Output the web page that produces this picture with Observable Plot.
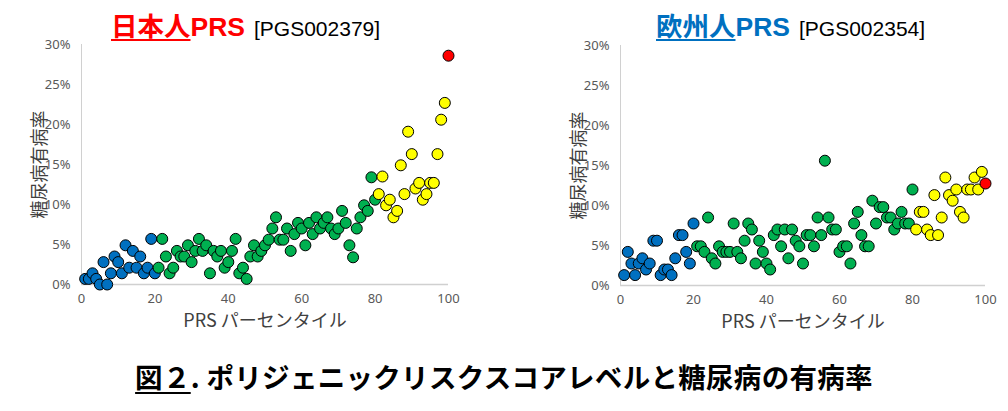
<!DOCTYPE html>
<html>
<head>
<meta charset="utf-8">
<script src="https://cdn.jsdelivr.net/npm/d3@7"></script>
<script src="https://cdn.jsdelivr.net/npm/@observablehq/plot@0.6"></script>
<style>
  body { margin: 0; background: #fff; }
  #wrap { position: relative; width: 1008px; height: 411px; background: #fff; overflow: hidden; }
  .title { position: absolute; white-space: nowrap; font-family: "Liberation Sans", Arial, "Noto Sans CJK JP", sans-serif; line-height: 30px; }
  .title .main { font-size: 26.5px; font-weight: bold; }
  .title .main u { text-decoration-thickness: 2px; text-underline-offset: 3px; }
  .title .code { font-size: 21px; color: #000; margin-left: 9px; }
  .chart { position: absolute; top: 30px; }
  .chart svg { overflow: visible; }
  .chart g[aria-label="x-axis tick label"], .chart g[aria-label="y-axis tick label"] { font-size: 13px; fill: #595959; font-family: "Noto Sans", "Noto Sans CJK JP", sans-serif; }
  .chart g[aria-label="x-axis label"], .chart g[aria-label="y-axis label"] { font-size: 18px; fill: #404040; font-family: "Noto Sans CJK JP", sans-serif; }
  #caption { position: absolute; left: 0; width: 1008px; top: 356px; text-align: center; font-family: "Noto Sans CJK JP", sans-serif; font-weight: bold; font-size: 27.5px; letter-spacing: 0.3px; line-height: 40px; color: #000; white-space: nowrap; }
  #caption u { text-decoration-thickness: 2px; text-underline-offset: 4px; }
</style>
</head>
<body>
<div id="wrap">
  <div class="title" style="left:111px; top:12px;"><span class="main" style="color:#FF0000;"><u>日本人</u>PRS</span><span class="code">[PGS002379]</span></div>
  <div class="title" style="left:656px; top:12px;"><span class="main" style="color:#0070C0;"><u>欧州人</u>PRS</span><span class="code">[PGS002354]</span></div>
  <div class="chart" id="left" style="left:0px;"></div>
  <div class="chart" id="right" style="left:500px;"></div>
  <div id="caption"><u>図２</u>. ポリジェニックリスクスコアレベルと糖尿病の有病率</div>
</div>
<script>
// PRS percentile (x)
const percentiles = [1,2,3,4,5,6,7,8,9,10,11,12,13,14,15,16,17,18,19,20,
  21,22,23,24,25,26,27,28,29,30,31,32,33,34,35,36,37,38,39,40,
  41,42,43,44,45,46,47,48,49,50,51,52,53,54,55,56,57,58,59,60,
  61,62,63,64,65,66,67,68,69,70,71,72,73,74,75,76,77,78,79,80,
  81,82,83,84,85,86,87,88,89,90,91,92,93,94,95,96,97,98,99,100];

// Diabetes prevalence (%) by percentile — Japanese PRS [PGS002379]
const jpRates = [0.7,0.7,1.4,0.7,0,2.8,0,1.4,3.5,2.8,1.4,4.9,2.1,4.2,2.1,3.5,1.4,2.1,5.7,1.4,
  2.1,5.7,3.5,1.4,2.1,4.2,3.5,3.5,4.9,2.8,4.2,5.7,4.2,4.9,1.4,4.2,3.5,4.2,2.1,2.8,
  4.2,5.7,1.4,2.1,0.7,3.5,4.9,3.5,4.2,4.9,5.6,7.0,8.4,5.6,5.6,7.0,4.2,6.3,7.7,7.0,
  4.9,7.7,6.3,8.4,7.0,7.7,8.4,7.0,6.3,7.0,9.2,7.7,4.9,3.4,7.0,8.4,9.9,9.2,13.4,10.6,
  11.3,13.5,9.9,10.6,8.4,9.2,14.9,11.3,19.1,16.3,12.0,12.7,10.6,11.3,12.7,12.7,16.3,20.6,22.7,28.6];

// Diabetes prevalence (%) by percentile — European PRS [PGS002354]
const euRates = [1.3,4.2,2.75,1.3,2.75,3.4,2.0,2.75,5.6,5.6,1.3,2.0,2.0,1.3,3.4,6.3,6.3,4.2,2.75,7.75,
  4.9,4.9,4.2,8.5,3.4,2.75,4.9,4.2,4.2,4.2,7.75,4.2,3.4,5.6,7.75,7.0,2.75,5.6,4.2,2.75,
  2.0,6.3,7.0,4.9,7.0,3.4,7.0,5.6,4.9,2.75,6.3,6.3,4.9,8.5,6.3,15.6,8.5,7.0,7.0,4.2,
  4.9,4.9,2.75,7.75,9.2,6.3,4.9,4.9,10.6,7.75,9.8,9.8,8.5,8.5,7.0,7.75,9.2,7.75,7.75,12.0,
  7.0,9.2,9.2,7.0,6.3,11.3,6.3,8.5,13.5,11.3,10.6,12.0,9.2,8.5,12.0,12.0,13.5,12.0,14.2,12.75];

// Risk groups (upper percentile bound of each group)
const groupNames = ["low", "middle", "high", "top"];
const groupUpper = [20, 80, 99, 100];
const groupColors = ["#0070C0", "#00B050", "#FFFF00", "#FF0000"];

const xTicks = [0, 20, 40, 60, 80, 100];
const yTicks = [0, 5, 10, 15, 20, 25, 30];
const xLabel = "PRS パーセンタイル";
const yLabel = "糖尿病有病率";

function groupOf(p) { return groupNames[groupUpper.findIndex(u => p <= u)]; }

function makeChart(rates, opts) {
  const data = percentiles.map((p, i) => ({p, rate: rates[i], group: groupOf(p)}));
  return Plot.plot({
    width: opts.width, height: 310,
    marginLeft: opts.marginLeft, marginRight: opts.marginRight,
    marginTop: opts.marginTop, marginBottom: 310 - opts.marginTop - 240,
    style: {background: "transparent"},
    x: {domain: [0, 100], ticks: xTicks, label: xLabel, labelAnchor: "center", labelOffset: 42, tickSize: 0, tickPadding: 9, labelArrow: "none"},
    y: {domain: [0, 30], ticks: yTicks, tickFormat: d => d + "%", label: yLabel, labelAnchor: "center", labelOffset: 48, tickSize: 0, tickPadding: 11, labelArrow: "none"},
    color: {domain: groupNames, range: groupColors},
    marks: [
      Plot.ruleY([0], {stroke: "#d0d0d0", strokeWidth: 1.5}),
      Plot.ruleX([0], {stroke: "#d0d0d0", strokeWidth: 1}),
      Plot.dot(data, {x: "p", y: "rate", fill: "group", r: 5.5, stroke: "#000", strokeWidth: 1})
    ]
  });
}

document.getElementById("left").append(makeChart(jpRates, {width: 500, marginLeft: 81, marginRight: 52, marginTop: 14}));
document.getElementById("right").append(makeChart(euRates, {width: 508, marginLeft: 120, marginRight: 23, marginTop: 15}));
</script>
</body>
</html>
